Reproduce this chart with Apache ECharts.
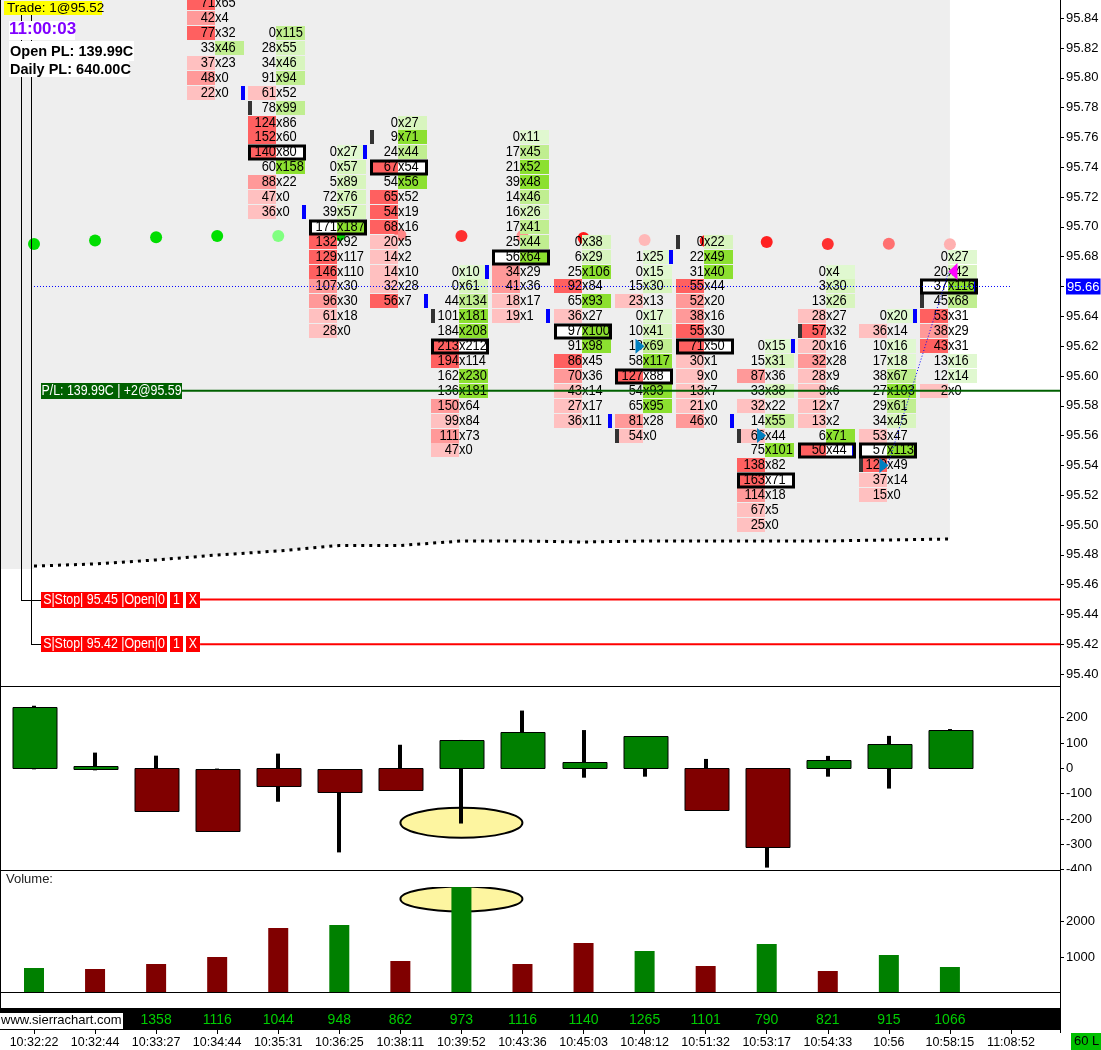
<!DOCTYPE html>
<html><head><meta charset="utf-8">
<style>html,body{margin:0;padding:0;background:#fff}#main{width:1101px;height:1050px}</style>
<script src="https://cdn.jsdelivr.net/npm/echarts@6/dist/echarts.min.js"></script>
</head><body><div id="main"></div>
<script>
// ---------- tick labels / categories ----------
const timeLabels = ['10:32:22','10:32:44','10:33:27','10:34:44','10:35:31','10:36:25','10:38:11','10:39:52','10:43:36','10:45:03','10:48:12','10:51:32','10:53:17','10:54:33','10:56','10:58:15','11:08:52'];
const priceTicks = [95.84,95.82,95.80,95.78,95.76,95.74,95.72,95.70,95.68,95.66,95.64,95.62,95.60,95.58,95.56,95.54,95.52,95.50,95.48,95.46,95.44,95.42,95.40];
const deltaTicks = [200,100,0,-100,-200,-300,-400];
const volumeTicks = [1000,2000];
const footerSlots = [2,3,4,5,6,7,8,9,10,11,12,13,14,15];
const footerValues = [1358,1116,1044,948,862,973,1116,1140,1265,1101,790,821,915,1066];

// ---------- footprint: one list per bar, top price downward ----------
const fpSlots = [3,4,5,6,7,8,9,10,11,12,13,14,15];
const fpTop = [95.85,95.83,95.75,95.77,95.67,95.76,95.69,95.68,95.69,95.62,95.67,95.64,95.68];
const fpBox = [null,95.75,95.70,95.74,95.62,95.68,95.63,95.60,95.62,95.53,95.55,95.55,95.66];
const fpBid = [
 [71,42,77,33,37,48,22],
 [0,28,34,91,61,78,124,152,140,60,88,47,36],
 [0,0,5,72,39,171,132,129,146,107,96,61,28],
 [0,9,24,67,54,65,54,68,20,14,14,32,56],
 [0,0,44,101,184,213,194,162,136,150,99,111,47],
 [0,17,21,39,14,16,17,25,56,34,41,18,19],
 [0,6,25,92,65,36,97,91,86,70,43,27,36],
 [1,0,15,23,0,10,18,58,127,54,65,81,54],
 [0,22,31,55,52,38,55,71,30,9,13,21,46],
 [0,15,87,33,32,14,66,75,138,163,114,67,25],
 [0,3,13,28,57,20,32,28,9,12,13,6,50],
 [0,36,10,17,38,27,29,34,53,57,120,37,15],
 [0,20,37,45,53,38,43,13,12,2]
];
const fpAsk = [
 [65,4,32,46,23,0,0],
 [115,55,46,94,52,99,86,60,80,158,22,0,0],
 [27,57,89,76,57,187,92,117,110,30,30,18,0],
 [27,71,44,54,56,52,19,16,5,2,10,28,7],
 [10,61,134,181,208,212,114,230,181,64,84,73,0],
 [11,45,52,48,46,26,41,44,64,29,36,17,1],
 [38,29,106,84,93,27,100,98,45,36,14,17,11],
 [25,15,30,13,17,41,69,117,88,93,95,28,0],
 [22,49,40,44,20,16,30,50,1,0,7,0,0],
 [15,31,36,38,22,55,44,101,82,71,18,5,0],
 [4,30,26,27,32,16,28,9,6,7,2,71,44],
 [20,14,16,18,67,103,61,45,47,113,49,14,0],
 [27,42,116,68,31,29,31,16,14,0]
];
// small edge markers
const blueMarkSlots = [3,4,5,6,7,8,9,10,11,12,13,14,15];
const blueMarkPrices = [95.79,95.71,95.75,95.65,95.67,95.64,95.57,95.68,95.57,95.62,95.55,95.64,95.66];
const grayMarkSlots = [4,6,7,10,11,12,13,14,15];
const grayMarkPrices = [95.78,95.76,95.64,95.56,95.69,95.56,95.63,95.54,95.65];
// signal dots
const dotPrices = [95.6885,95.6909,95.6930,95.6939,95.6939,95.6945,95.6945,95.6939,95.6939,95.6925,95.6912,95.6905,95.6898,95.6885,95.6887,95.6883];
// floor line
const floorPrices = [95.4725,95.4739,95.4766,95.4799,95.4826,95.4863,95.4863,95.4893,95.4893,95.4886,95.4893,95.4893,95.4893,95.4893,95.4900,95.4906];
// trade arrows (slot, price)
const buyArrowSlots = [9.925,11.915,13.92];
const buyArrowPrices = [95.62,95.56,95.54];
const sellArrowSlots = [15.05];
const sellArrowPrices = [95.67];
const tradeLinkSlots = [13.98,14.98];
const tradeLinkPrices = [95.54,95.67];
// levels
const lastPrice = 95.66, positionPrice = 95.59, stopPrices = [95.45,95.42];
// delta candles
const deltaOpen  = [0,0,0,-1,0,-3,0,0,0,0,0,0,0,0,0,0];
const deltaClose = [242,10,-170,-245,-71,-95,-86,112,143,24,126,-166,-312,32,95,150];
const deltaHigh  = [247,62,50,-1,58,-3,93,112,228,151,126,37,0,49,128,155];
const deltaLow   = [-4,-8,-170,-245,-132,-332,-86,-218,0,-37,-33,-166,-392,-33,-80,0];
// volume
const volumeValues = [701,673,813,1010,1823,1907,898,2983,813,1402,1178,757,1374,617,1066,729];
const volumeUp = [1,0,0,0,0,1,0,1,0,0,1,0,1,0,1,1];
// highlight ellipses centred on the 10:39:52 bar
const highlightSlot = 7, highlightDelta = -215, highlightVolume = 2640;

// ---------- styles / layout ----------
const FONT = '"Liberation Sans", Arial, sans-serif';
const X_MIN = -0.5568, X_MAX = 16.803, Y_TOP = 95.85217, Y_BOT = 95.39203;
const GREEN = '#008000', MAROON = '#800000';
const redShades = ['#ffc0c0','#ffc0c0','#ff9999','#ff6060'];
const greenShades = ['#e0f8d0','#d8f5be','#c0ee90','#8ce030'];
const dotColors = ['#00dd00','#00dd00','#00dd00','#00e000','#80ff80','#00d000','#ff8888','#ff3030','#ff9090','#ff1a1a','#ffb8b8','#ff1a1a','#ff2020','#ff3030','#ff7070','#ffb0b0'];
const shade = (v, max) => { const r = max ? v / max : 0; return r < .25 ? 0 : r < .5 ? 1 : r < .75 ? 2 : 3; };

const fpCells = [], fpBoxes = [];
fpSlots.forEach((slot, c) => {
  const maxB = Math.max(...fpBid[c]), maxA = Math.max(...fpAsk[c]);
  if (fpBox[c] !== null) fpBoxes.push([slot, fpBox[c]]);
  fpBid[c].forEach((b, r) => {
    const price = +(fpTop[c] - r * 0.01).toFixed(2), a = fpAsk[c][r];
    const isBox = fpBox[c] !== null && Math.abs(fpBox[c] - price) < 1e-6 ? 1 : 0;
    fpCells.push([slot, price, b, a, isBox, b > a ? shade(b, maxB) : -1, a > b ? shade(a, maxA) : -1]);
  });
});

const squeezedText = (text, x, y, align, fill, size, sx) => ({type:'text', x, y, scaleX:sx,
  style:{text, x:0, y:0, align, verticalAlign:'middle', fill, font:size+'px '+FONT}});

function cellItem(params, api) {
  const p = api.coord([api.value(0), api.value(1)]);
  const x = Math.round(p[0]), y = Math.round(p[1]);
  const b = api.value(2), a = api.value(3), box = api.value(4), rs = api.value(5), gs = api.value(6);
  const mid = x - 2, kids = [];
  const top = y - 7, h = 14;
  if (box) kids.push({type:'rect', shape:{x:x-30, y:top, width:57, height:h+1}, style:{fill:'#fff'}});
  if (rs >= 0) kids.push({type:'rect', shape:{x:x-30, y:top, width:28, height:h}, style:{fill:redShades[rs]}});
  if (gs >= 0) kids.push({type:'rect', shape:{x:mid, y:top, width:29, height:h}, style:{fill:greenShades[gs]}});
  kids.push(squeezedText(String(b), mid, y+0.5, 'right', '#000', 14, .92));
  kids.push(squeezedText('x'+a, mid, y+0.5, 'left', '#000', 14, .92));
  return {type:'group', children:kids};
}
function boxItem(params, api) {
  const p = api.coord([api.value(0), api.value(1)]);
  const x = Math.round(p[0]), y = Math.round(p[1]);
  return {type:'rect', shape:{x:x-28.5, y:y-6, width:55, height:13}, style:{fill:'none', stroke:'#000', lineWidth:3}};
}
const markItem = (dx, color) => (params, api) => {
  const p = api.coord([api.value(0), api.value(1)]);
  return {type:'rect', shape:{x:Math.round(p[0])+dx, y:Math.round(p[1])-7, width:4, height:14}, style:{fill:color}};
};

function candleItem(params, api) {
  const i = api.value(0);
  const o = api.coord([i, api.value(1)]), c = api.coord([i, api.value(2)]);
  const h = api.coord([i, api.value(3)]), l = api.coord([i, api.value(4)]);
  const x = Math.round(o[0]);
  const up = api.value(2) >= api.value(1);
  const t = Math.min(o[1], c[1]), b = Math.max(o[1], c[1]);
  return {type:'group', children:[
    {type:'rect', shape:{x:x-2, y:h[1], width:4, height:l[1]-h[1]}, style:{fill:'#000'}},
    {type:'rect', shape:{x:x-21.5+0.5, y:Math.round(t)+.5, width:44, height:Math.round(b-t)}, style:{fill:up?GREEN:MAROON, stroke:'#000', lineWidth:1}}
  ]};
}
const ellipseItem = (ry) => (params, api) => {
  const p = api.coord([api.value(0), api.value(1)]);
  return {type:'ellipse', shape:{cx:p[0], cy:p[1], rx:61, ry:ry}, style:{fill:'#fdf5a0', stroke:'#000', lineWidth:2}};
};

// price tags
const tagRows = [
  {price:positionPrice, bg:'#006000', parts:[['P/L: 139.99C | +2@95.59',141]]},
  {price:stopPrices[0], bg:'#ff0000', parts:[['S|Stop| 95.45 |Open|0',126],['1',13],['X',14]]},
  {price:stopPrices[1], bg:'#ff0000', parts:[['S|Stop| 95.42 |Open|0',126],['1',13],['X',14]]}
];
function tagItem(params, api) {
  const row = tagRows[api.value(0)];
  const p = api.coord([0.1146, row.price]);
  let x = Math.round(p[0]); const y = Math.round(p[1]), kids = [];
  row.parts.forEach(([t, w]) => {
    kids.push({type:'rect', shape:{x:x, y:y-8, width:w, height:16}, style:{fill:row.bg}});
    kids.push(squeezedText(t, x+w/2, y+0.5, 'center', '#fff', 14, .885));
    x += w + 3;
  });
  return {type:'group', children:kids};
}

const blackRect = (x,y,w,h) => ({type:'rect', z:20, silent:true, shape:{x,y,width:w,height:h}, style:{fill:'#000'}});
const noteText = (x,y,text,font,fill) => ({type:'text', z:31, silent:true, x, y, style:{text, font, fill, verticalAlign:'top'}});
const noteBg = (x,y,w,h,fill) => ({type:'rect', z:30, silent:true, shape:{x,y,width:w,height:h}, style:{fill}});

const sharedY = {type:'value', position:'right', scale:false, splitLine:{show:false},
  axisLine:{show:true, onZero:false, lineStyle:{color:'#000', width:1}}};
const tickStyle = {show:true, length:4, lineStyle:{color:'#000'}};
const labelStyle = {color:'#000', fontSize:13, fontFamily:FONT, margin:6, showMinLabel:true, showMaxLabel:true};
const hiddenX = g => ({type:'value', gridIndex:g, min:X_MIN, max:X_MAX, show:false, splitLine:{show:false}});

const option = {
  animation:false, backgroundColor:'#fff',
  grid:[
    {left:0, width:1060, top:0, height:686, outerBoundsMode:'none'},
    {left:0, width:1060, top:686, height:184, outerBoundsMode:'none'},
    {left:0, width:1060, top:870, height:122, outerBoundsMode:'none'},
    {left:0, width:1060, top:1008, height:22, outerBoundsMode:'none', show:true, backgroundColor:'#000', borderWidth:0}
  ],
  xAxis:[hiddenX(0), hiddenX(1), hiddenX(2), {
    type:'value', gridIndex:3, min:X_MIN, max:X_MAX, splitLine:{show:false}, axisLine:{show:false, onZero:false},
    axisTick:{show:true, length:4, lineStyle:{color:'#000'}, customValues:timeLabels.map((_,i)=>i)},
    axisLabel:{customValues:timeLabels.map((_,i)=>i), formatter:v=>timeLabels[Math.round(v)], color:'#000', fontSize:12.5, fontFamily:FONT, margin:6, showMinLabel:true, showMaxLabel:true}
  }],
  yAxis:[
    Object.assign({}, sharedY, {gridIndex:0, min:Y_BOT, max:Y_TOP,
      axisTick:Object.assign({customValues:priceTicks}, tickStyle),
      axisLabel:Object.assign({}, labelStyle, {customValues:priceTicks,
        formatter:v=>Math.abs(v-lastPrice)<1e-6?'{hl|'+v.toFixed(2)+'}':v.toFixed(2),
        rich:{hl:{backgroundColor:'#0000ff', color:'#fff', fontSize:13, fontFamily:FONT, padding:[2,1,1,1]}}})}),
    Object.assign({}, sharedY, {gridIndex:1, min:-401.5, max:325,
      axisTick:Object.assign({customValues:deltaTicks}, tickStyle),
      axisLabel:Object.assign({}, labelStyle, {customValues:deltaTicks, formatter:v=>String(v)})}),
    Object.assign({}, sharedY, {gridIndex:2, min:28, max:3450,
      axisTick:Object.assign({customValues:volumeTicks}, tickStyle),
      axisLabel:Object.assign({}, labelStyle, {customValues:volumeTicks, formatter:v=>String(v)})}),
    {type:'value', gridIndex:3, min:0, max:1, show:false, splitLine:{show:false}}
  ],
  series:[
    // grey session fill
    {type:'line', z:1, xAxisIndex:0, yAxisIndex:0, symbol:'none', silent:true,
     data:[[X_MIN,95.4705],[0,95.4705]].concat(floorPrices.map((p,i)=>[i,p])),
     lineStyle:{width:0}, areaStyle:{color:'#eeeeee', opacity:1, origin:'end'}},
    // signal dots
    {type:'scatter', z:2, xAxisIndex:0, yAxisIndex:0, silent:true, symbol:'circle', symbolSize:12,
     data:dotPrices.map((p,i)=>({value:[i,p], itemStyle:{color:dotColors[i], opacity:1}}))},
    // footprint cells
    {type:'custom', z:4, xAxisIndex:0, yAxisIndex:0, silent:true, renderItem:cellItem, data:fpCells},
    // blue edge marks
    {type:'custom', z:5, xAxisIndex:0, yAxisIndex:0, silent:true, renderItem:markItem(24,'#0000ff'),
     data:blueMarkSlots.map((s,i)=>[s,blueMarkPrices[i]])},
    // dark edge marks
    {type:'custom', z:5, xAxisIndex:0, yAxisIndex:0, silent:true, renderItem:markItem(-30,'#333333'),
     data:grayMarkSlots.map((s,i)=>[s,grayMarkPrices[i]])},
    // point-of-control boxes
    {type:'custom', z:6, xAxisIndex:0, yAxisIndex:0, silent:true, renderItem:boxItem, data:fpBoxes},
    // floor dotted line
    {type:'line', z:7, xAxisIndex:0, yAxisIndex:0, symbol:'none', silent:true,
     data:floorPrices.map((p,i)=>[i,p]), lineStyle:{color:'#000', width:3, type:[3,5]}},
    // last price
    {type:'line', z:7, xAxisIndex:0, yAxisIndex:0, symbol:'none', silent:true,
     data:[[0,lastPrice],[16,lastPrice]], lineStyle:{color:'#0000ff', width:1, type:[1,2]}},
    // position line
    {type:'line', z:7, xAxisIndex:0, yAxisIndex:0, symbol:'none', silent:true,
     data:[[2.42,positionPrice],[X_MAX,positionPrice]], lineStyle:{color:'#006000', width:2}},
    // stop lines
    {type:'line', z:7, xAxisIndex:0, yAxisIndex:0, symbol:'none', silent:true,
     data:[[2.72,stopPrices[0]],[X_MAX,stopPrices[0]]], lineStyle:{color:'#ff0000', width:2}},
    {type:'line', z:7, xAxisIndex:0, yAxisIndex:0, symbol:'none', silent:true,
     data:[[2.72,stopPrices[1]],[X_MAX,stopPrices[1]]], lineStyle:{color:'#ff0000', width:2}},
    // trade link
    {type:'line', z:8, xAxisIndex:0, yAxisIndex:0, symbol:'none', silent:true,
     data:tradeLinkSlots.map((s,i)=>[s,tradeLinkPrices[i]]), lineStyle:{color:'#0000ff', width:1, type:[1,2]}},
    // arrows
    {type:'scatter', z:9, xAxisIndex:0, yAxisIndex:0, silent:true, symbol:'triangle', symbolSize:[15,9], symbolRotate:-90,
     data:buyArrowSlots.map((s,i)=>[s,buyArrowPrices[i]]), itemStyle:{color:'#0080c0', opacity:1}},
    {type:'scatter', z:9, xAxisIndex:0, yAxisIndex:0, silent:true, symbol:'triangle', symbolSize:[17,9], symbolRotate:90,
     data:sellArrowSlots.map((s,i)=>[s,sellArrowPrices[i]]), itemStyle:{color:'#ff00ff', opacity:1}},
    // order tags
    {type:'custom', z:10, xAxisIndex:0, yAxisIndex:0, silent:true, renderItem:tagItem, data:tagRows.map((r,i)=>[i])},
    // delta pane
    {type:'custom', z:2, xAxisIndex:1, yAxisIndex:1, silent:true, renderItem:ellipseItem(15), data:[[highlightSlot,highlightDelta]]},
    {type:'custom', z:3, xAxisIndex:1, yAxisIndex:1, silent:true, renderItem:candleItem,
     data:deltaOpen.map((o,i)=>[i,o,deltaClose[i],deltaHigh[i],deltaLow[i]])},
    // volume pane
    {type:'custom', z:2, xAxisIndex:2, yAxisIndex:2, silent:true, renderItem:ellipseItem(12.5), data:[[highlightSlot,highlightVolume]]},
    {type:'bar', z:3, xAxisIndex:2, yAxisIndex:2, silent:true, barWidth:20,
     data:volumeValues.map((v,i)=>({value:[i,v], itemStyle:{color:volumeUp[i]?GREEN:MAROON}}))},
    // footer numbers
    {type:'scatter', z:3, xAxisIndex:3, yAxisIndex:3, silent:true, symbolSize:0,
     data:footerSlots.map((s,i)=>[s,0.5,footerValues[i]]),
     label:{show:true, position:'inside', offset:[0,1], formatter:p=>String(p.value[2]), color:'#00ff00', fontSize:14, fontFamily:FONT}}
  ],
  graphic:[
    blackRect(0,0,1,1008), blackRect(0,686,1060,1), blackRect(0,870,1060,1), blackRect(0,992,1060,1),
    blackRect(1060,0,1,1033),
    // callout lines
    blackRect(21,12,1,588), blackRect(21,600,20,1), blackRect(31,12,1,632), blackRect(31,644,10,1),
    // clip of the lowest delta label
    {type:'rect', z:21, silent:true, shape:{x:1062,y:871,width:39,height:12}, style:{fill:'#fff'}},
    // top edge of the clipped volume ellipse
    {type:'rect', z:21, silent:true, shape:{x:395,y:880,width:132,height:7}, style:{fill:'#fff'}},
    // top-left panel
    noteBg(4,1,98,14,'#ffff00'), noteText(7,1,'Trade: 1@95.52','13.5px '+FONT,'#000'),
    noteBg(9,21,66,19,'#ffffff'), noteText(9,21,'11:00:03','bold 17px '+FONT,'#8000ff'),
    noteBg(9,41,125,20,'#ffffff'), noteText(10,44,'Open PL: 139.99C','bold 14.5px '+FONT,'#000'),
    noteBg(9,61,120,16,'#ffffff'), noteText(10,62,'Daily PL: 640.00C','bold 14.5px '+FONT,'#000'),
    // volume title
    noteText(6,873,'Volume:','13px '+FONT,'#222'),
    // footer badges
    noteBg(0,1013,123,16,'#ffffff'), noteText(1,1014,'www.sierrachart.com','13px '+FONT,'#000'),
    noteBg(1071,1033,30,17,'#00c000'), noteText(1074,1035,'60 L','13px '+FONT,'#000')
  ]
};
echarts.init(document.getElementById('main')).setOption(option);
</script>
</body></html>
